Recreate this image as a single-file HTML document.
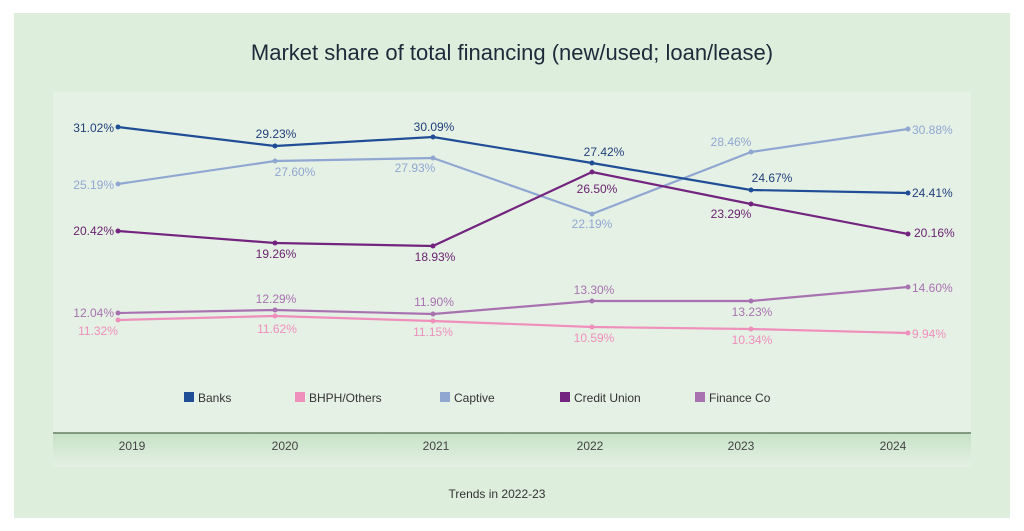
<!DOCTYPE html>
<html><head><meta charset="utf-8"><style>
html,body{margin:0;padding:0;background:#fff;width:1024px;height:531px;overflow:hidden}
svg text{font-family:"Liberation Sans",sans-serif}
</style></head><body>
<svg width="1024" height="531" viewBox="0 0 1024 531" xmlns="http://www.w3.org/2000/svg">
<defs>
<linearGradient id="g" x1="0" y1="0" x2="0" y2="1">
<stop offset="0" stop-color="#c6e2c6"/><stop offset="1" stop-color="#e4f0e4"/>
</linearGradient>
</defs>
<rect x="14" y="13" width="996" height="505" fill="#deeedd"/>
<rect x="53" y="92" width="918" height="341" fill="#e6f1e6"/>
<rect x="53" y="433" width="918" height="34" fill="url(#g)"/>
<line x1="53" y1="433" x2="971" y2="433" stroke="#4f6a4f" stroke-width="1.2"/>
<text x="512" y="60" font-size="22" fill="#1e2a3a" text-anchor="middle">Market share of total financing (new/used; loan/lease)</text>
<g font-size="12" fill="#444" text-anchor="middle">
<text x="132" y="450">2019</text><text x="285" y="450">2020</text><text x="436" y="450">2021</text>
<text x="590" y="450">2022</text><text x="741" y="450">2023</text><text x="893" y="450">2024</text>
</g>
<text x="497" y="498" font-size="12" fill="#333" text-anchor="middle">Trends in 2022-23</text>
<!-- legend -->
<g font-size="12" fill="#333">
<rect x="184" y="392" width="10" height="10" fill="#1f4e96"/><text x="198" y="402">Banks</text>
<rect x="295" y="392" width="10" height="10" fill="#ef8fbb"/><text x="309" y="402">BHPH/Others</text>
<rect x="440" y="392" width="10" height="10" fill="#8fa7d1"/><text x="454" y="402">Captive</text>
<rect x="560" y="392" width="10" height="10" fill="#72247f"/><text x="574" y="402">Credit Union</text>
<rect x="695" y="392" width="10" height="10" fill="#a872b0"/><text x="709" y="402">Finance Co</text>
</g>
<!-- series -->
<g fill="none" stroke-width="2.2" stroke-linejoin="round">
<polyline stroke="#8fa7d1" points="118,184 275,161 433,158 592,214 751,152 908,129"/>
<polyline stroke="#ef8fbb" points="118,320 275,316 433,321 592,327 751,329 908,333"/>
<polyline stroke="#a872b0" points="118,313 275,310 433,314 592,301 751,301 908,287"/>
<polyline stroke="#72247f" points="118,231 275,243 433,246 592,172 751,204 908,234"/>
<polyline stroke="#1f4e96" points="118,127 275,146 433,137 592,163 751,190 908,193"/>
</g>
<g fill="#8fa7d1"><circle cx="118" cy="184" r="2.5"/><circle cx="275" cy="161" r="2.5"/><circle cx="433" cy="158" r="2.5"/><circle cx="592" cy="214" r="2.5"/><circle cx="751" cy="152" r="2.5"/><circle cx="908" cy="129" r="2.5"/></g>
<g fill="#ef8fbb"><circle cx="118" cy="320" r="2.5"/><circle cx="275" cy="316" r="2.5"/><circle cx="433" cy="321" r="2.5"/><circle cx="592" cy="327" r="2.5"/><circle cx="751" cy="329" r="2.5"/><circle cx="908" cy="333" r="2.5"/></g>
<g fill="#a872b0"><circle cx="118" cy="313" r="2.5"/><circle cx="275" cy="310" r="2.5"/><circle cx="433" cy="314" r="2.5"/><circle cx="592" cy="301" r="2.5"/><circle cx="751" cy="301" r="2.5"/><circle cx="908" cy="287" r="2.5"/></g>
<g fill="#72247f"><circle cx="118" cy="231" r="2.5"/><circle cx="275" cy="243" r="2.5"/><circle cx="433" cy="246" r="2.5"/><circle cx="592" cy="172" r="2.5"/><circle cx="751" cy="204" r="2.5"/><circle cx="908" cy="234" r="2.5"/></g>
<g fill="#1f4e96"><circle cx="118" cy="127" r="2.5"/><circle cx="275" cy="146" r="2.5"/><circle cx="433" cy="137" r="2.5"/><circle cx="592" cy="163" r="2.5"/><circle cx="751" cy="190" r="2.5"/><circle cx="908" cy="193" r="2.5"/></g>
<!-- labels -->
<g font-size="12">
<g fill="#1f3f7a">
<text x="114" y="132" text-anchor="end">31.02%</text>
<text x="276" y="138" text-anchor="middle">29.23%</text>
<text x="434" y="131" text-anchor="middle">30.09%</text>
<text x="604" y="156" text-anchor="middle">27.42%</text>
<text x="772" y="182" text-anchor="middle">24.67%</text>
<text x="912" y="197">24.41%</text>
</g>
<g fill="#8fa7d1">
<text x="114" y="189" text-anchor="end">25.19%</text>
<text x="295" y="176" text-anchor="middle">27.60%</text>
<text x="415" y="172" text-anchor="middle">27.93%</text>
<text x="592" y="228" text-anchor="middle">22.19%</text>
<text x="731" y="146" text-anchor="middle">28.46%</text>
<text x="912" y="134">30.88%</text>
</g>
<g fill="#6a2370">
<text x="114" y="235" text-anchor="end">20.42%</text>
<text x="276" y="258" text-anchor="middle">19.26%</text>
<text x="435" y="261" text-anchor="middle">18.93%</text>
<text x="597" y="193" text-anchor="middle">26.50%</text>
<text x="731" y="218" text-anchor="middle">23.29%</text>
<text x="914" y="237">20.16%</text>
</g>
<g fill="#a872b0">
<text x="114" y="317" text-anchor="end">12.04%</text>
<text x="276" y="303" text-anchor="middle">12.29%</text>
<text x="434" y="306" text-anchor="middle">11.90%</text>
<text x="594" y="294" text-anchor="middle">13.30%</text>
<text x="752" y="316" text-anchor="middle">13.23%</text>
<text x="912" y="292">14.60%</text>
</g>
<g fill="#ef8fbb">
<text x="98" y="335" text-anchor="middle">11.32%</text>
<text x="277" y="333" text-anchor="middle">11.62%</text>
<text x="433" y="336" text-anchor="middle">11.15%</text>
<text x="594" y="342" text-anchor="middle">10.59%</text>
<text x="752" y="344" text-anchor="middle">10.34%</text>
<text x="912" y="338">9.94%</text>
</g>
</g>
</svg>
</body></html>
